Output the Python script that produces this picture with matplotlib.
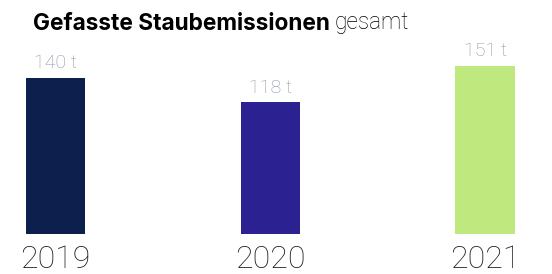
import matplotlib
matplotlib.use("Agg")
import matplotlib.pyplot as plt
from matplotlib.transforms import blended_transform_factory

years = ["2019", "2020", "2021"]
values = [140, 118, 151]
value_labels = ["140 t", "118 t", "151 t"]
colors = ["#0d1f4d", "#2b2190", "#bfe97f"]

W, H, DPI = 552, 274, 100
fig = plt.figure(figsize=(W / DPI, H / DPI), dpi=DPI)

spacing = 214.8
c0 = 55.5
bar_bottom_px = 234
scale = 1.115  # px per t

ax = fig.add_axes([0, 0, 1, 1])
ax.set_position([0, (H - bar_bottom_px) / H, 1, bar_bottom_px / H])
ax.set_xlim(-c0 / spacing, (W - c0) / spacing)
ax.set_ylim(0, bar_bottom_px / scale)
ax.axis("off")

x = list(range(len(years)))
ax.bar(x, values, width=59.5 / spacing, color=colors)

light = "Roboto"
for xi, v, lab in zip(x, values, value_labels):
    ax.annotate(lab, (xi, v), xytext=(0, 9.5 * 72 / DPI), textcoords="offset points",
                ha="center", va="baseline", fontsize=14, color="#8c96a8",
                family=light, fontweight="light")

tr = blended_transform_factory(ax.transData, fig.transFigure)
for xi, y in zip(x, years):
    ax.text(xi, (H - 268) / H, y, transform=tr, ha="center", va="baseline",
            fontsize=23, color="#1e1e1e", family=light, fontweight="light")

t1 = fig.text(33 / W, (H - 29.5) / H, "Gefasste Staubemissionen", ha="left", va="baseline",
              fontsize=16.3, fontweight="bold", color="#000000", family="Inter")
fig.canvas.draw()
bb = t1.get_window_extent()
fig.text((bb.x1 + 5) / W, (H - 29.5) / H, "gesamt", ha="left", va="baseline",
         fontsize=16.3, fontweight="light", color="#000000", family=light)

fig.savefig("out.png", dpi=DPI)
